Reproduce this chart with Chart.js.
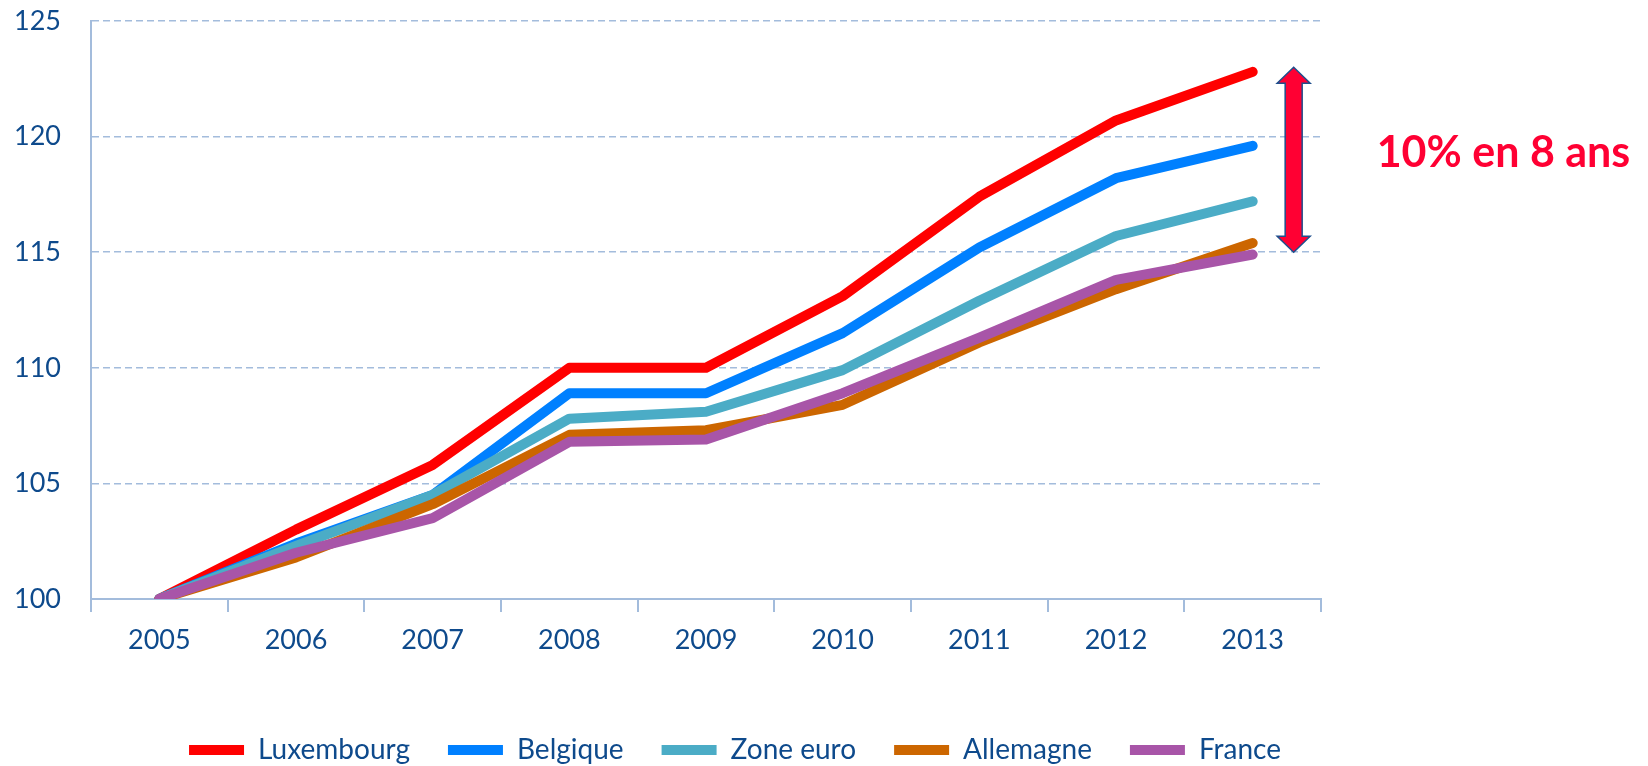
<!DOCTYPE html>
<html>
<head>
<meta charset="utf-8">
<script src="https://cdn.jsdelivr.net/npm/chart.js@4"></script>
<style>
    html, body { margin: 0; padding: 0; background: #fff; }
    #wrap { width: 1648px; height: 766px; position: relative; }
</style>
</head>
<body>
<div id="wrap"><canvas id="chart"></canvas></div>
<script>
// index 2005 = 100
const years = ['2005', '2006', '2007', '2008', '2009', '2010', '2011', '2012', '2013'];
const luxembourg = [100, 103.0, 105.8, 110.0, 110.0, 113.1, 117.4, 120.7, 122.8];
const belgique = [100, 102.4, 104.5, 108.9, 108.9, 111.5, 115.2, 118.2, 119.6];
const zoneEuro = [100, 102.3, 104.5, 107.8, 108.1, 109.9, 112.9, 115.7, 117.2];
const allemagne = [100, 101.8, 104.1, 107.1, 107.3, 108.4, 111.1, 113.4, 115.4];
const france = [100, 102.0, 103.5, 106.8, 106.9, 108.9, 111.3, 113.8, 114.9];

const seriesNames = ['Luxembourg', 'Belgique', 'Zone euro', 'Allemagne', 'France'];
const seriesColors = ['#FF0000', '#0080FF', '#4BACC6', '#CC6600', '#A855A8'];

const yMin = 100, yMax = 125, yStep = 5;

// double arrow between top and bottom of the spread
const gapTop = 123, gapBottom = 115;
const gapNote = '10% en 8 ans';

const textColor = '#0E4A8C';
const gridColor = '#A3BCDC';
const font = 'Lato, "Open Sans", sans-serif';

let allSeries = [luxembourg, belgique, zoneEuro, allemagne, france];
let datasets = allSeries.map(function (values, i) {
    return {
        label: seriesNames[i],
        data: values,
        borderColor: seriesColors[i],
        backgroundColor: seriesColors[i],
        borderWidth: 10,
        borderCapStyle: 'round',
        borderJoinStyle: 'round',
        pointRadius: 0,
        tension: 0,
        order: allSeries.length - i   // later series painted on top
    };
});

const gapArrow = {
    id: 'gapArrow',
    afterDraw(chart) {
        let ctx = chart.ctx;
        let x = chart.scales.x.getPixelForValue(8.3);
        let yTop = chart.scales.y.getPixelForValue(gapTop);
        let yBot = chart.scales.y.getPixelForValue(gapBottom);
        let shaft = 8.5, head = 16.5, headLen = 16;

        ctx.save();
        ctx.beginPath();
        ctx.moveTo(x, yTop);
        ctx.lineTo(x + head, yTop + headLen);
        ctx.lineTo(x + shaft, yTop + headLen);
        ctx.lineTo(x + shaft, yBot - headLen);
        ctx.lineTo(x + head, yBot - headLen);
        ctx.lineTo(x, yBot);
        ctx.lineTo(x - head, yBot - headLen);
        ctx.lineTo(x - shaft, yBot - headLen);
        ctx.lineTo(x - shaft, yTop + headLen);
        ctx.lineTo(x - head, yTop + headLen);
        ctx.closePath();
        ctx.fillStyle = '#FF0033';
        ctx.fill();
        ctx.lineWidth = 1.5;
        ctx.strokeStyle = '#1F4E8C';
        ctx.stroke();

        ctx.fillStyle = '#FF0033';
        ctx.font = 'bold 43px ' + font;
        ctx.textAlign = 'left';
        ctx.textBaseline = 'middle';
        ctx.fillText(gapNote, x + 83, chart.scales.y.getPixelForValue(119.3));
        ctx.restore();
    }
};

new Chart(document.getElementById('chart'), {
    type: 'line',
    data: {
        labels: years,
        datasets: datasets
    },
    options: {
        responsive: true,
        maintainAspectRatio: false,
        animation: false,
        layout: {
            padding: { top: 21, left: 14, right: 192, bottom: -8 }
        },
        plugins: {
            tooltip: { enabled: false },
            legend: {
                position: 'bottom',
                labels: {
                    boxWidth: 55,
                    boxHeight: 10,
                    useBorderRadius: true,
                    borderRadius: 5,
                    padding: 38,
                    color: textColor,
                    font: { family: font, size: 28 },
                    generateLabels: function (chart) {
                        return chart.data.datasets.map(function (ds, i) {
                            return {
                                text: ds.label,
                                fillStyle: ds.borderColor,
                                strokeStyle: ds.borderColor,
                                lineWidth: 0,
                                fontColor: textColor,
                                datasetIndex: i
                            };
                        });
                    }
                }
            }
        },
        scales: {
            x: {
                offset: true,
                grid: {
                    offset: true,
                    drawOnChartArea: false,
                    drawTicks: true,
                    tickLength: 13,
                    color: gridColor,
                    lineWidth: 2
                },
                border: { display: true, color: gridColor, width: 2 },
                ticks: {
                    color: textColor,
                    padding: 12,
                    maxRotation: 0,
                    font: { family: font, size: 27 }
                },
                afterFit: function (scale) {
                    scale.height = 99;
                    scale.paddingLeft = 0;
                    scale.paddingRight = 0;
                }
            },
            y: {
                min: yMin,
                max: yMax,
                grid: {
                    drawTicks: false,
                    color: gridColor,
                    lineWidth: 1.5
                },
                border: { display: true, color: gridColor, width: 2, dash: [7, 4] },
                ticks: {
                    stepSize: yStep,
                    color: textColor,
                    padding: 30,
                    font: { family: font, size: 27 }
                },
                afterFit: function (scale) {
                    scale.width = 77;
                    scale.paddingTop = 0;
                    scale.paddingBottom = 0;
                }
            },
            yPad: {
                type: 'linear',
                axis: 'y',
                position: 'right',
                grid: { display: false },
                border: { display: false },
                ticks: { display: false },
                afterFit: function (scale) {
                    scale.width = 135;
                    scale.paddingTop = 0;
                    scale.paddingBottom = 0;
                }
            }
        }
    },
    plugins: [gapArrow]
});
</script>
</body>
</html>
